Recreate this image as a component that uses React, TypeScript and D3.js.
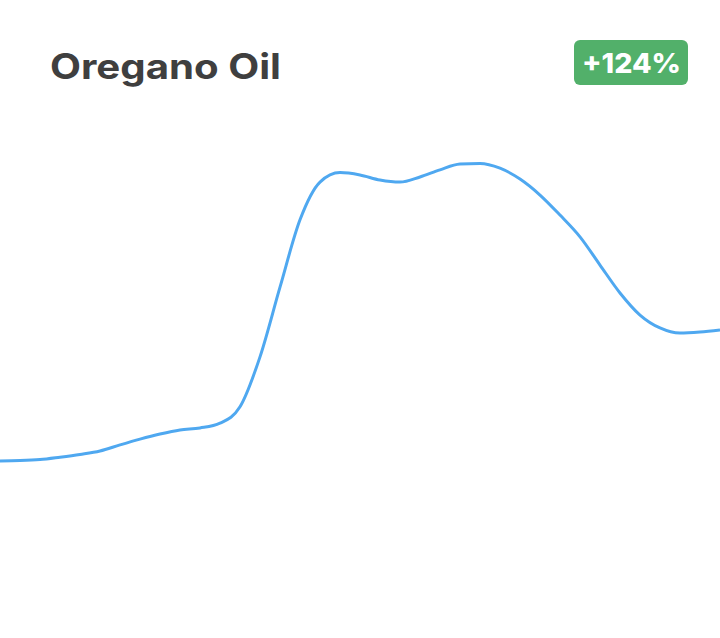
import React from "react";
import * as d3 from "d3";

const title = "Oregano Oil";
const badgeLabel = "+124%";
// weekly interest index
const weeks: number[] = d3.range(37);
const interest: number[] = [
  11.5, 11.6, 11.9, 12.6, 13.4, 14.4, 16.2, 17.9, 19.4, 20.6, 21.2, 22.6,
  27.4, 42.1, 62.6, 82.4, 93.5, 96.3, 95.6, 94.1, 93.5, 95.0, 97.1, 98.8,
  99.0, 97.6, 94.4, 89.7, 83.8, 77.4, 69.1, 60.9, 54.4, 50.6, 49.1, 49.4, 50.0,
];

const W = 720;
const H = 638;

export default function App() {
  const x = d3.scaleLinear().domain([0, weeks.length - 1]).range([0, W]);
  const y = d3.scaleLinear().domain([0, 100]).range([500, 160]);
  const line = d3
    .line<number>()
    .x((_, i) => x(weeks[i]))
    .y((d) => y(d))
    .curve(d3.curveMonotoneX);
  const path = line(interest) || "";

  return (
    <svg
      width={W}
      height={H}
      style={{ position: "absolute", left: 0, top: 0, background: "#fff" }}
    >
      <text
        x={50}
        y={79}
        fontFamily="Inter, 'Open Sans', sans-serif"
        fontWeight={700}
        fontSize={35}
        fill="#3f3f3f"
        textLength={231}
        lengthAdjust="spacingAndGlyphs"
      >
        {title}
      </text>
      <rect x={574} y={40} width={114} height={45} rx={6} fill="#52b06a" />
      <text
        x={582}
        y={73}
        fontFamily="Inter, 'Open Sans', sans-serif"
        fontWeight={800}
        fontSize={27}
        fill="#ffffff"
        textLength={99}
        lengthAdjust="spacingAndGlyphs"
      >
        {badgeLabel}
      </text>
      <path d={path} fill="none" stroke="#4fa8f0" strokeWidth={3} />
    </svg>
  );
}
